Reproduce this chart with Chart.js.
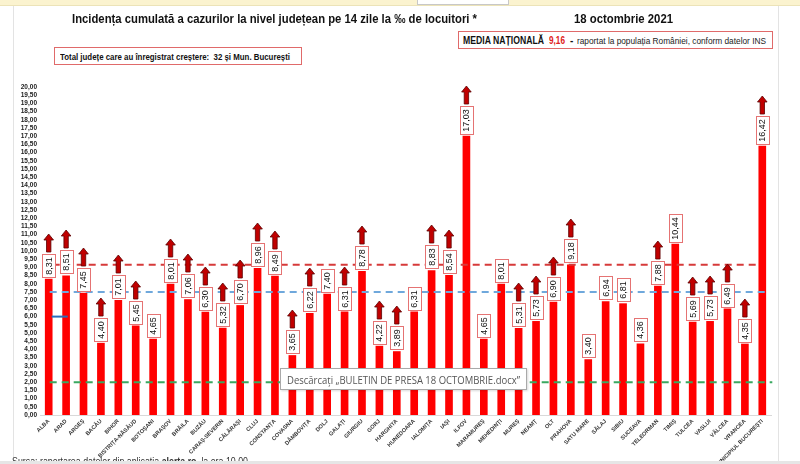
<!DOCTYPE html>
<html>
<head>
<meta charset="utf-8">
<script src="https://cdn.jsdelivr.net/npm/chart.js@4.4.0/dist/chart.umd.min.js"></script>
<style>
  body { margin: 0; background: #fff; }
  #wrap { position: relative; width: 800px; height: 464px; overflow: hidden; background: #fff;
          font-family: "Liberation Sans Narrow", "Liberation Sans", Arial, sans-serif; }
  #chart { position: absolute; left: 0; top: 0; }
  .abs { position: absolute; white-space: nowrap; }
  .fit { display: inline-block; transform-origin: 0 50%; }
  .band { left: 0; top: 0; width: 800px; height: 5px; background: #fbf3cf; border-bottom: 1px solid #ece3b8; }
  .field { left: 417px; top: -1px; width: 90px; height: 4px; background: #fff; border: 1px solid #c8c8c8; }
  .vline { top: 6px; width: 1px; height: 458px; background: #e3e3e3; }
  .title { left: 72px; top: 11px; font-size: 13px; font-weight: bold; color: #111; }
  .date { left: 574px; top: 11px; font-size: 13px; font-weight: bold; color: #111; }
  .box { border: 1px solid #e06a6a; background: #fff; box-sizing: border-box; }
  .box1 { left: 458px; top: 31px; width: 315px; height: 18px; }
  .box2 { left: 54px; top: 47px; width: 248px; height: 18px; }
  .tip { left: 280px; top: 368px; width: 247px; height: 22px; border: 1px solid #a9a9a9; background: #fff;
         box-sizing: border-box; box-shadow: 1px 1px 2px rgba(0,0,0,0.15);
         font-family: "Open Sans", "Liberation Sans", sans-serif; font-size: 11px; color: #555; }
  .src { left: 12px; top: 456px; font-size: 10px; color: #333; }
  .bottom { left: 0; top: 461px; width: 800px; height: 3px; background: #e6e6e6; }
</style>
</head>
<body>
<div id="wrap">
  <canvas id="chart" width="800" height="464"></canvas>
  <div class="abs band"></div>
  <div class="abs field"></div>
  <div class="abs vline" style="left:13px"></div>
  <div class="abs vline" style="left:778px"></div>

  <div class="abs title"><span class="fit" data-w="405">Incidența cumulată a cazurilor la nivel județean pe 14 zile la ‰ de locuitori *</span></div>
  <div class="abs date"><span class="fit" data-w="99">18 octombrie 2021</span></div>

  <div class="abs box box1">
    <span class="abs" style="left:4px; top:3px; font-size:10px; font-weight:bold; color:#111;"><span class="fit" data-w="81">MEDIA NAȚIONALĂ</span></span>
    <span class="abs" style="left:90px; top:3px; font-size:10px; font-weight:bold; color:#e02020;"><span class="fit" data-w="16">9,16</span></span>
    <span class="abs" style="left:111px; top:3px; font-size:10px; font-weight:bold; color:#111;">-</span>
    <span class="abs" style="left:118px; top:4px; font-size:9px; color:#222;"><span class="fit" data-w="189">raportat la populația României, conform datelor INS</span></span>
  </div>

  <div class="abs box box2">
    <span class="abs" style="left:5px; top:4px; font-size:8.5px; font-weight:bold; color:#111;"><span class="fit" data-w="230">Total județe care au înregistrat creștere:&nbsp; 32 și Mun. București</span></span>
  </div>

  <div class="abs tip">
    <span class="abs" style="left:6px; top:3px;"><span class="fit" data-w="233">Descărcați „BULETIN DE PRESA 18 OCTOMBRIE.docx”</span></span>
  </div>

  <div class="abs src"><span class="fit" data-w="236">Sursa: raportarea datelor din aplicația <b>alerta.ro</b>, la ora 10.00</span></div>
  <div class="abs bottom"></div>
</div>

<script>
// judete si incidenta la 14 zile (‰)
const judete = ['ALBA', 'ARAD', 'ARGEȘ', 'BACĂU', 'BIHOR', 'BISTRIȚA-NĂSĂUD', 'BOTOȘANI', 'BRAȘOV',
  'BRĂILA', 'BUZĂU', 'CARAȘ-SEVERIN', 'CĂLĂRAȘI', 'CLUJ', 'CONSTANȚA', 'COVASNA', 'DÂMBOVIȚA',
  'DOLJ', 'GALAȚI', 'GIURGIU', 'GORJ', 'HARGHITA', 'HUNEDOARA', 'IALOMIȚA', 'IAȘI', 'ILFOV',
  'MARAMUREȘ', 'MEHEDINȚI', 'MUREȘ', 'NEAMȚ', 'OLT', 'PRAHOVA', 'SATU MARE', 'SĂLAJ', 'SIBIU',
  'SUCEAVA', 'TELEORMAN', 'TIMIȘ', 'TULCEA', 'VASLUI', 'VÂLCEA', 'VRANCEA', 'MUNICIPIUL BUCUREȘTI']

const incidenta = [8.31, 8.51, 7.45, 4.40, 7.01, 5.45, 4.65, 8.01,
  7.06, 6.30, 5.32, 6.70, 8.96, 8.49, 3.65, 6.22,
  7.40, 6.31, 8.78, 4.22, 3.89, 6.31, 8.83, 8.54, 17.03,
  4.65, 8.01, 5.31, 5.73, 6.90, 9.18, 3.40, 6.94, 6.81,
  4.36, 7.88, 10.44, 5.69, 5.73, 6.49, 4.35, 16.42]

// 1 = a inregistrat crestere (sageata)
const crestere = [1, 1, 1, 1, 1, 1, 0, 1,
  1, 1, 1, 1, 1, 1, 1, 1,
  0, 1, 1, 1, 1, 0, 1, 1, 1,
  0, 0, 1, 1, 1, 1, 0, 0, 0,
  0, 1, 0, 1, 1, 1, 1, 1]

const mediaNationala = 9.16
const pragAlbastru = 7.5
const pragVerde = 2
const marcajAlbastru = 6

const fmt = (v) => v.toFixed(2).replace('.', ',')

function dashLine(ctx, x1, x2, yy, color) {
  ctx.save()
  ctx.strokeStyle = color
  ctx.lineWidth = 2
  ctx.setLineDash([7, 5])
  ctx.beginPath()
  ctx.moveTo(x1, yy)
  ctx.lineTo(x2, yy)
  ctx.stroke()
  ctx.restore()
}

function arrow(ctx, cx, bottom, len) {
  const top = bottom - len, head = 6, sw = 2.2, hw = 4.8
  ctx.save()
  ctx.beginPath()
  ctx.moveTo(cx - sw, bottom)
  ctx.lineTo(cx - sw, top + head)
  ctx.lineTo(cx - hw, top + head)
  ctx.lineTo(cx, top)
  ctx.lineTo(cx + hw, top + head)
  ctx.lineTo(cx + sw, top + head)
  ctx.lineTo(cx + sw, bottom)
  ctx.closePath()
  ctx.fillStyle = '#c00000'
  ctx.fill()
  ctx.strokeStyle = '#5c0000'
  ctx.lineWidth = 0.8
  ctx.stroke()
  ctx.restore()
}

const overlay = {
  id: 'overlay',
  afterDatasetsDraw(chart) {
    const ctx = chart.ctx
    const x = chart.scales.x, y = chart.scales.y
    const first = x.getPixelForValue(0), last = x.getPixelForValue(judete.length - 1)

    dashLine(ctx, first + 4, last - 6, y.getPixelForValue(mediaNationala), '#d63a3a')
    dashLine(ctx, first + 1, last + 4, y.getPixelForValue(pragAlbastru), '#6fa8dc')
    dashLine(ctx, first + 1, last + 10, y.getPixelForValue(pragVerde), '#3aa860')

    ctx.save()
    ctx.strokeStyle = '#2a6ebb'
    ctx.lineWidth = 2
    ctx.beginPath()
    ctx.moveTo(first + 3, y.getPixelForValue(marcajAlbastru))
    ctx.lineTo(first + 19, y.getPixelForValue(marcajAlbastru))
    ctx.stroke()
    ctx.restore()

    const meta = chart.getDatasetMeta(0)
    ctx.font = '9px "Liberation Sans", Arial, sans-serif'
    meta.data.forEach((bar, i) => {
      const txt = fmt(incidenta[i])
      const tw = ctx.measureText(txt).width
      const bh = Math.round(tw + 5), bw = 13
      const bx = Math.round(bar.x - bw / 2), by = Math.round(bar.y - 2 - bh)
      ctx.fillStyle = '#fff'
      ctx.fillRect(bx, by, bw, bh)
      ctx.strokeStyle = '#e57373'
      ctx.lineWidth = 1
      ctx.strokeRect(bx + 0.5, by + 0.5, bw, bh)
      ctx.save()
      ctx.translate(bar.x + 0.5, by + bh / 2 + 0.5)
      ctx.rotate(-Math.PI / 2)
      ctx.fillStyle = '#111'
      ctx.textAlign = 'center'
      ctx.textBaseline = 'middle'
      ctx.fillText(txt, 0, 0)
      ctx.restore()
      if (crestere[i]) arrow(ctx, bar.x, by - 2, 18)
    })
  }
}

new Chart(document.getElementById('chart').getContext('2d'), {
  type: 'bar',
  data: {
    labels: judete,
    datasets: [{
      data: incidenta,
      backgroundColor: '#ff0000',
      borderWidth: 0,
      barPercentage: 0.44,
      categoryPercentage: 1
    }]
  },
  options: {
    responsive: false,
    animation: false,
    events: [],
    layout: { padding: { top: 87, left: 0, right: 29, bottom: 0 } },
    plugins: { legend: { display: false }, tooltip: { enabled: false } },
    scales: {
      x: {
        grid: { display: false, drawTicks: false },
        border: { display: true, color: '#d9d9d9' },
        ticks: {
          autoSkip: false, maxRotation: 45, minRotation: 45, padding: 3,
          color: '#333', font: { size: 5.6, weight: 'bold', family: '"Liberation Sans", Arial, sans-serif' }
        },
        afterFit(scale) { scale.height = 49 }
      },
      y: {
        min: 0, max: 20,
        grid: { display: false, drawTicks: false },
        border: { display: false },
        ticks: {
          stepSize: 0.5, autoSkip: false, padding: 3,
          color: '#222', font: { size: 6.5, weight: 'bold', family: '"Liberation Sans", Arial, sans-serif' },
          callback: (v) => fmt(v)
        },
        afterFit(scale) { scale.width = 40 }
      }
    }
  },
  plugins: [overlay]
})

// stretch header texts to the widths seen in the picture
document.querySelectorAll('.fit').forEach((el) => {
  const w = el.getBoundingClientRect().width
  el.style.transform = 'scaleX(' + (Number(el.dataset.w) / w) + ')'
})
</script>
</body>
</html>
